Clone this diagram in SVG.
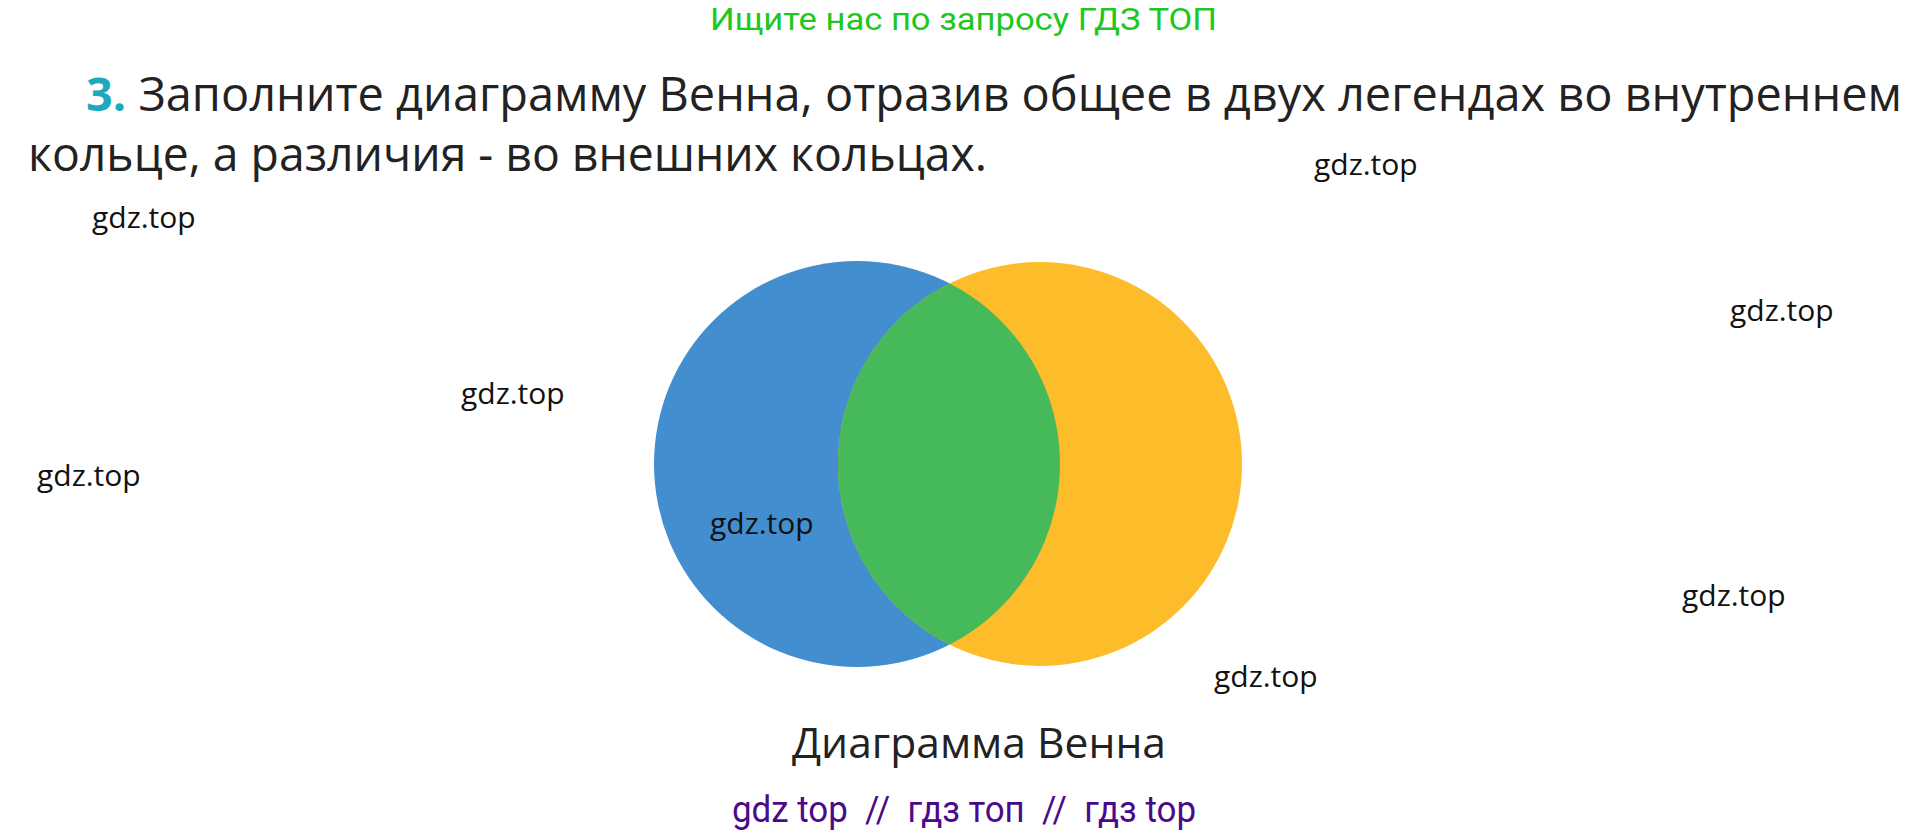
<svg xmlns="http://www.w3.org/2000/svg" width="1929" height="836" viewBox="0 0 1929 836">
<style>
.wm{font-family:"Open Sans","Liberation Sans",sans-serif;font-size:30px;fill:#111}
.head{font-family:"Open Sans","Noto Sans","Liberation Sans",sans-serif;font-size:47px;fill:#222}
.num{font-weight:bold;fill:#1EA8BE}
.top{font-family:Roboto,"Liberation Sans",sans-serif;font-size:32px;fill:#1EC81E}
.cap{font-family:"Open Sans","Noto Sans","Liberation Sans",sans-serif;font-size:42px;fill:#222}
.foot{font-family:Roboto,"Liberation Sans",sans-serif;font-size:36px;fill:#4B0A8A}
</style>
<rect width="1929" height="836" fill="#fff"/>
<text class="top" x="710" y="30" textLength="507" lengthAdjust="spacingAndGlyphs">Ищите нас по запросу ГДЗ ТОП</text>
<text class="head" x="86" y="111" textLength="1816" lengthAdjust="spacingAndGlyphs"><tspan class="num">3.</tspan> Заполните диаграмму Венна, отразив общее в двух легендах во внутреннем</text>
<text class="head" x="28" y="171" textLength="959" lengthAdjust="spacingAndGlyphs">кольце, а различия - во внешних кольцах.</text>
<defs>
<clipPath id="clipBlue"><circle cx="857" cy="464" r="203"/></clipPath>
</defs>
<g id="circle-left"><circle cx="857" cy="464" r="203" fill="#428ECE"/></g>
<g id="circle-right"><circle cx="1040" cy="464" r="202" fill="#FDBD2A"/></g>
<g id="intersection"><circle cx="1040" cy="464" r="202" fill="#46B95A" clip-path="url(#clipBlue)"/></g>
<g id="connectors"></g>
<text class="cap" x="792" y="758" textLength="374" lengthAdjust="spacingAndGlyphs">Диаграмма Венна</text>
<text class="foot" x="732" y="822" textLength="464" lengthAdjust="spacingAndGlyphs" xml:space="preserve">gdz top  //  гдз топ  //  гдз top</text>
<g id="watermarks">
<text class="wm" x="1314" y="175">gdz.top</text>
<text class="wm" x="92" y="228">gdz.top</text>
<text class="wm" x="1730" y="321">gdz.top</text>
<text class="wm" x="461" y="404">gdz.top</text>
<text class="wm" x="37" y="486">gdz.top</text>
<text class="wm" x="710" y="534">gdz.top</text>
<text class="wm" x="1682" y="606">gdz.top</text>
<text class="wm" x="1214" y="687">gdz.top</text>
</g>
</svg>
